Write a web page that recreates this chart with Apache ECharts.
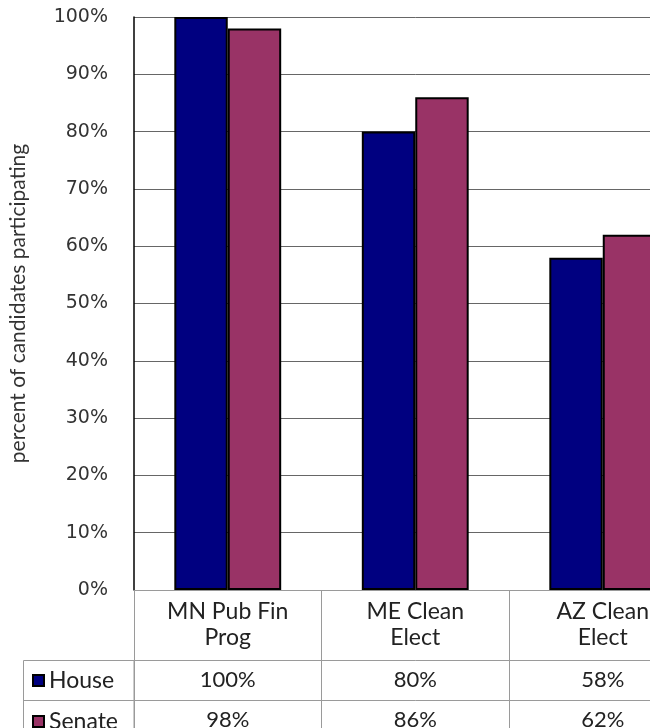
<!DOCTYPE html>
<html>
<head>
<meta charset="utf-8">
<script src="https://cdn.jsdelivr.net/npm/echarts@6/dist/echarts.min.js"></script>
<style>
  html, body { margin: 0; padding: 0; background: #fff; overflow: hidden; }
  /* the plot runs past the right edge of the window, so the canvas is wider */
  #chart { width: 710px; height: 728px; }
</style>
</head>
<body>
<div id="chart"></div>
<script>
// Program names (two-line labels) and participation rates
const categories = ['MN Pub Fin\nProg', 'ME Clean\nElect', 'AZ Clean\nElect'];
const seriesNames = ['House', 'Senate'];
const houseValues = [100, 80, 58];
const senateValues = [98, 86, 62];
const yTicks = { min: 0, max: 100, step: 10 };

const tableFont = 'Lato, "Open Sans", sans-serif';
const tableLine = '#9a9a9a';
const pct = v => v + '%';

const chart = echarts.init(document.getElementById('chart'));

// one data-table row drawn as an extra category axis under the plot
const tableRowAxis = (values, offset) => ({
  type: 'category',
  data: values.map(pct),
  position: 'bottom',
  offset: offset,
  axisLine: { show: true, lineStyle: { color: tableLine, width: 1 } },
  axisTick: { show: false },
  axisLabel: {
    interval: 0, margin: 8, fontFamily: tableFont, fontSize: 22,
    lineHeight: 24, color: '#222'
  }
});

chart.setOption({
  animation: false,
  grid: {
    left: 134, top: 17, width: 562.5, height: 573,
    containLabel: false, outerBoundsMode: 'none'
  },
  legend: {
    orient: 'vertical', left: 27, top: 664, height: 120,
    itemWidth: 11, itemHeight: 11, itemGap: 18,
    icon: 'rect',
    textStyle: { fontFamily: tableFont, fontSize: 23, lineHeight: 22, color: '#222' },
    data: seriesNames
  },
  xAxis: [
    {
      type: 'category',
      data: categories,
      axisLine: { show: true, lineStyle: { color: tableLine, width: 1 } },
      axisTick: { show: true, interval: 0, length: 140, lineStyle: { color: tableLine, width: 1 } },
      axisLabel: {
        interval: 0, margin: 9, fontFamily: tableFont, fontSize: 23,
        lineHeight: 26, color: '#222'
      }
    },
    tableRowAxis(houseValues, 70),
    tableRowAxis(senateValues, 110)
  ],
  yAxis: {
    type: 'value',
    min: yTicks.min, max: yTicks.max, interval: yTicks.step,
    name: 'percent of candidates participating',
    nameLocation: 'middle', nameGap: 105, nameRotate: 90,
    nameTextStyle: { fontFamily: tableFont, fontSize: 21, color: '#333' },
    axisLine: { show: true, lineStyle: { color: '#000', width: 1.5 } },
    axisTick: { show: false },
    axisLabel: {
      formatter: '{value}%', margin: 26,
      fontFamily: '"DejaVu Sans", sans-serif', fontSize: 19, color: '#333'
    },
    splitLine: { show: true, lineStyle: { color: '#666', width: 1 } }
  },
  graphic: [
    {
      type: 'rect', silent: true,
      shape: { x: 23.5, y: 660.5, width: 110.5, height: 100 },
      style: { fill: 'none', stroke: tableLine, lineWidth: 1 }
    },
    {
      type: 'line', silent: true,
      shape: { x1: 23.5, y1: 700.5, x2: 134, y2: 700.5 },
      style: { stroke: tableLine, lineWidth: 1 }
    }
  ],
  series: [
    {
      name: seriesNames[0], type: 'bar', data: houseValues,
      barCategoryGap: '43%', barGap: '0%',
      itemStyle: { color: '#000080', borderColor: '#000', borderWidth: 2 }
    },
    {
      name: seriesNames[1], type: 'bar', data: senateValues,
      barCategoryGap: '43%', barGap: '0%',
      itemStyle: { color: '#993366', borderColor: '#000', borderWidth: 2 }
    }
  ]
});
</script>
</body>
</html>
